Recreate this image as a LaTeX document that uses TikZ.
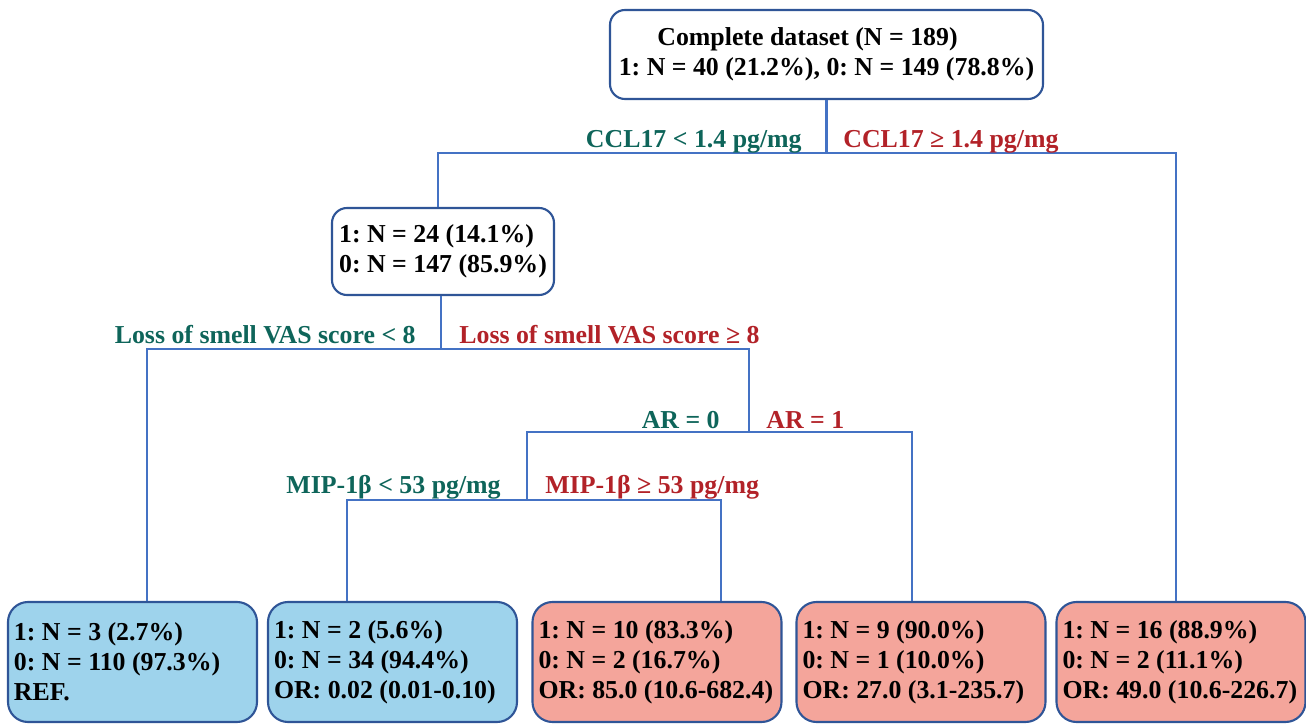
\documentclass[tikz,border=0pt]{standalone}
\usepackage{fontspec}
\setmainfont{Liberation Serif}
\definecolor{linkblue}{RGB}{68,114,196}
\definecolor{boxedge}{RGB}{47,85,151}
\definecolor{lowfill}{RGB}{158,211,236}
\definecolor{highfill}{RGB}{244,165,155}
\definecolor{lowtext}{RGB}{14,101,90}
\definecolor{hightext}{RGB}{178,34,40}
\frenchspacing
\exhyphenpenalty=10000
\newcommand\treefont{\fontsize{14.7}{17}\selectfont\bfseries}
\tikzset{
  every node/.style={font=\treefont},
  split/.style={draw=boxedge, line width=1.2pt, rounded corners=3mm, fill=white},
  leaf/.style={draw=boxedge, line width=1.2pt, rounded corners=4mm, minimum height=24mm,
    text width=47.4mm, inner xsep=1.2mm, align=flush left},
  lowleaf/.style={leaf, fill=lowfill},
  highleaf/.style={leaf, fill=highfill},
  link/.style={draw=linkblue, line width=1.3pt},
  lowcut/.style={anchor=base east, inner sep=0pt, text=lowtext},
  highcut/.style={anchor=base west, inner sep=0pt, text=hightext}
}
\begin{document}
\begin{tikzpicture}[x=0.2mm, y=-0.2mm]
  \useasboundingbox (0,0) rectangle (1306,724);
  % split boxes
  \node[split, minimum width=86.6mm, minimum height=17.8mm, align=center] (root) at (826.5,54.5)
    {Complete dataset (N = 189)\hspace*{7.6mm}\\ 1: N = 40 (21.2\%), 0: N = 149 (78.8\%)};
  \node[split, minimum width=44.4mm, minimum height=17.4mm, align=left] (mid) at (443,251.5)
    {1: N = 24 (14.1\%)\\ 0: N = 147 (85.9\%)};
  % leaves
  \node[lowleaf] (leaf1) at (132.5,662) {1: N = 3 (2.7\%)\\ 0: N = 110 (97.3\%)\\ REF.};
  \node[lowleaf] (leaf2) at (392.5,662) {1: N = 2 (5.6\%)\\ 0: N = 34 (94.4\%)\\ OR: 0.02 (0.01-0.10)};
  \node[highleaf] (leaf3) at (657,662) {1: N = 10 (83.3\%)\\ 0: N = 2 (16.7\%)\\ OR: 85.0 (10.6-682.4)};
  \node[highleaf] (leaf4) at (921,662) {1: N = 9 (90.0\%)\\ 0: N = 1 (10.0\%)\\ OR: 27.0 (3.1-235.7)};
  \node[highleaf] (leaf5) at (1181,662) {1: N = 16 (88.9\%)\\ 0: N = 2 (11.1\%)\\ OR: 49.0 (10.6-226.7)};
  % branch points
  \coordinate (s1) at (826.5,153);
  \coordinate (c1l) at (438,153);
  \coordinate (c1r) at (1176,153);
  \coordinate (s2) at (441,349);
  \coordinate (c2l) at (147,349);
  \coordinate (c2r) at (749,349);
  \coordinate (s3) at (749,432);
  \coordinate (c3l) at (527,432);
  \coordinate (c3r) at (912,432);
  \coordinate (s4) at (527,500);
  \coordinate (c4l) at (347,500);
  \coordinate (c4r) at (721,500);
  % links
  \draw[link] (root.south) -- (s1);
  \draw[link] (mid.north -| c1l) -- (c1l) -- (c1r) -- (c1r |- leaf5.north);
  \draw[link] (mid.south -| s2) -- (s2);
  \draw[link] (c2l |- leaf1.north) -- (c2l) -- (c2r) -- (s3);
  \draw[link] (s4) -- (c3l) -- (c3r) -- (c3r |- leaf4.north);
  \draw[link] (c4l |- leaf2.north) -- (c4l) -- (c4r) -- (c4r |- leaf3.north);
  % cut labels
  \node[lowcut] (ccllow) at (802,147) {CCL17 < 1.4 pg/mg};
  \node[highcut] (cclhigh) at (843,147) {CCL17 ≥ 1.4 pg/mg};
  \node[lowcut] (smelllow) at (416,343) {Loss of smell VAS score < 8};
  \node[highcut] (smellhigh) at (459,343) {Loss of smell VAS score ≥ 8};
  \node[lowcut] (arlow) at (720,428) {AR = 0};
  \node[highcut] (arhigh) at (766,428) {AR = 1};
  \node[lowcut] (miplow) at (501,493) {MIP-1β < 53 pg/mg};
  \node[highcut] (miphigh) at (545,493) {MIP-1β ≥ 53 pg/mg};
\end{tikzpicture}
\end{document}
